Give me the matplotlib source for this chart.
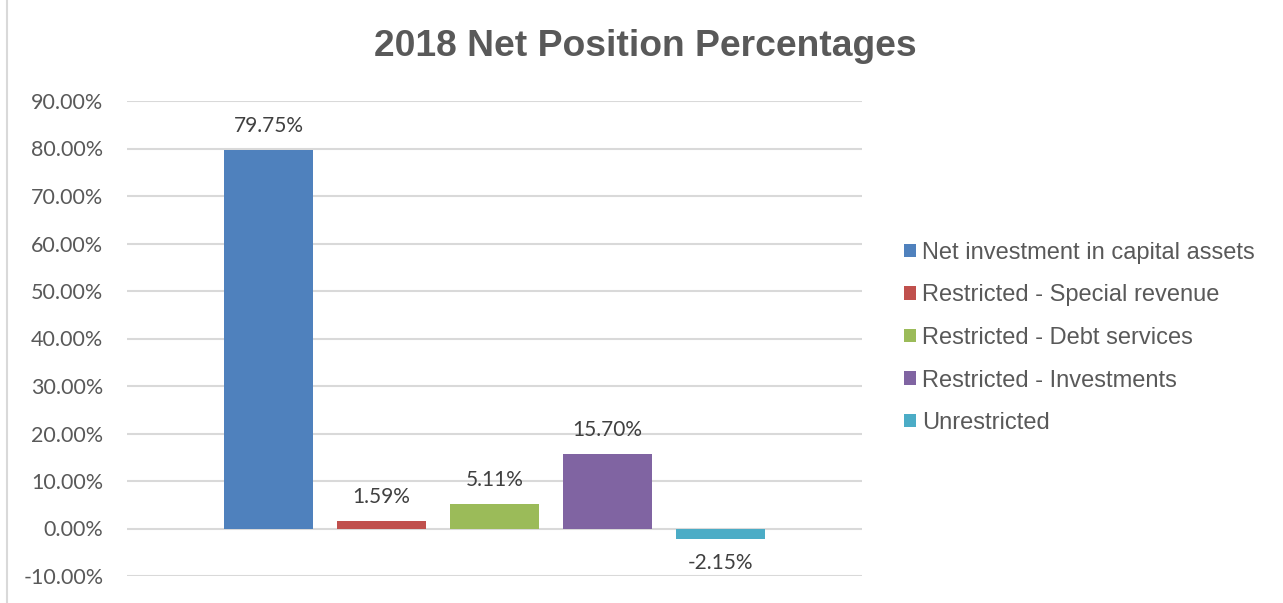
import matplotlib
matplotlib.use("Agg")
import matplotlib.pyplot as plt
from matplotlib.ticker import FuncFormatter
from matplotlib.patches import Rectangle

# data
categories = ["Net investment in capital assets",
              "Restricted - Special revenue",
              "Restricted - Debt services",
              "Restricted - Investments",
              "Unrestricted"]
values = [79.75, 1.59, 5.11, 15.70, -2.15]
colors = ["#4F81BD", "#C0504D", "#9BBB59", "#8064A2", "#4BACC6"]
yticks = [-10, 0, 10, 20, 30, 40, 50, 60, 70, 80, 90]

fig = plt.figure(figsize=(12.83, 6.03), dpi=100)
ax = fig.add_axes([127 / 1283, 1 - 576 / 603, 735 / 1283, 475 / 603])

# frame of the chart area (only the left edge shows in the crop)
fig.patches.append(Rectangle((7 / 1283, -0.01), 1.2, 1.2, transform=fig.transFigure,
                             fill=False, edgecolor="#D9D9D9", linewidth=1.5))

width = 89 / 113
handles = []
for i, (cat, v, c) in enumerate(zip(categories, values, colors)):
    b = ax.bar(i, v, width=width, color=c, label=cat, zorder=3)
    handles.append(b)
    if v >= 0:
        ax.annotate(f"{v:.2f}%", (i, v), xytext=(0, 10), textcoords="offset points",
                    ha="center", va="bottom", fontsize=15, color="#404040",
                    family="Lato")
    else:
        ax.annotate(f"{v:.2f}%", (i, v), xytext=(0, -10), textcoords="offset points",
                    ha="center", va="top", fontsize=15, color="#404040",
                    family="Lato")

ax.set_xlim(2 - 735 / 113 / 2, 2 + 735 / 113 / 2)
ax.set_ylim(-10, 90)
ax.set_yticks(yticks)
ax.yaxis.set_major_formatter(FuncFormatter(lambda y, p: f"{y:.2f}%"))
ax.grid(axis="y", color="#D9D9D9", linewidth=1.5, zorder=0)
ax.set_xticks([])
for s in ax.spines.values():
    s.set_visible(False)
ax.tick_params(axis="y", length=0, pad=17, labelsize=15.5, labelcolor="#595959")
for lab in ax.get_yticklabels():
    lab.set_family("Lato")

fig.text(645 / 1283, 1 - 47 / 603, "2018 Net Position Percentages", ha="center", va="center",
         fontsize=26.8, fontweight="bold", color="#595959", family="Liberation Sans")

fig.legend(handles=handles, labels=categories, loc="center left",
           bbox_to_anchor=(883 / 1283, 1 - 338 / 603), frameon=False,
           prop={"family": "Liberation Sans", "size": 17}, labelcolor="#595959",
           handlelength=0.5, handleheight=0.5, handletextpad=0.25, labelspacing=0.87)

fig.savefig("out.png", dpi=100)
